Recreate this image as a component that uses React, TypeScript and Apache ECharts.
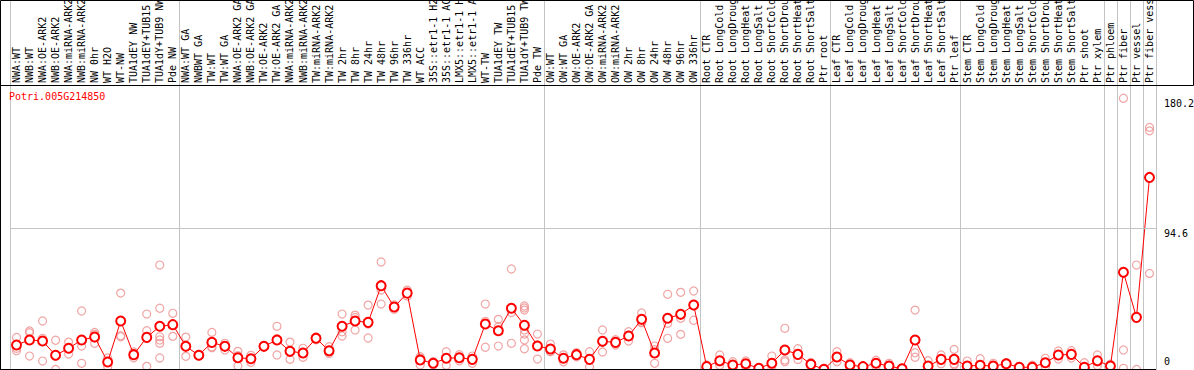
import React, { useEffect, useRef } from 'react';
import * as echarts from 'echarts';

const geneId = 'Potri.005G214850';

const categories = [
  'NWA:WT', 'NWB:WT', 'NWA:OE-ARK2', 'NWB:OE-ARK2', 'NWA:miRNA-ARK2', 'NWB:miRNA-ARK2',
  'NW 0hr', 'WT H2O', 'WT-NW', 'TUA1dEY NW', 'TUA1dEY+TUB15 NW', 'TUA1dY+TUB9 NW', 'Pde NW',
  'NWA:WT GA', 'NWBWT GA', 'TW:WT', 'TW:WT GA', 'NWA:OE-ARK2 GA', 'NWB:OE-ARK2 GA',
  'TW:OE-ARK2', 'TW:OE-ARK2 GA', 'NWA:miRNA-ARK2', 'NWB:miRNA-ARK2', 'TW:miRNA-ARK2',
  'TW:miRNA-ARK2', 'TW 2hr', 'TW 8hr', 'TW 24hr', 'TW 48hr', 'TW 96hr', 'TW 336hr',
  'WT ACC', '35S::etr1-1 H2O', '35S::etr1-1 ACC', 'LMX5::etr1-1 H2O', 'LMX5::etr1-1 ACC',
  'WT-TW', 'TUA1dEY TW', 'TUA1dEY+TUB15 TW', 'TUA1dY+TUB9 TW', 'Pde TW',
  'OW:WT', 'OW:WT GA', 'OW:OE-ARK2', 'OW:OE-ARK2 GA', 'OW:miRNA-ARK2', 'OW:miRNA-ARK2',
  'OW 2hr', 'OW 8hr', 'OW 24hr', 'OW 48hr', 'OW 96hr', 'OW 336hr',
  'Root CTR', 'Root LongCold', 'Root LongDrought', 'Root LongHeat', 'Root LongSalt',
  'Root ShortCold', 'Root ShortDrought', 'Root ShortHeat', 'Root ShortSalt', 'Ptr root',
  'Leaf CTR', 'Leaf LongCold', 'Leaf LongDrought', 'Leaf LongHeat', 'Leaf LongSalt',
  'Leaf ShortCold', 'Leaf ShortDrought', 'Leaf ShortHeat', 'Leaf ShortSalt', 'Ptr leaf',
  'Stem CTR', 'Stem LongCold', 'Stem LongDrought', 'Stem LongHeat', 'Stem LongSalt',
  'Stem ShortCold', 'Stem ShortDrought', 'Stem ShortHeat', 'Stem ShortSalt', 'Ptr shoot', 'Ptr xylem',
  'Ptr phloem', 'Ptr fiber', 'Ptr vessel', 'Ptr fiber vessel',
];

// index of the first category of each group (vertical separators)
const groupStarts = [0, 13, 41, 53, 63, 73, 84, 85, 86, 87];

const meanValues = [
  17.5, 20.8, 20.1, 10.7, 15.3, 20.8, 22.7, 6.3, 33.3, 11.1, 22.5, 29.8, 30.9,
  16.6, 10.7, 19.2, 16.6, 9.1, 8.4, 16.6, 20.8, 13.3, 12.2, 21.9, 13.7, 29.8, 33.3, 32.4,
  56.6, 42.5, 51.7, 7.6, 5.4, 8.7, 9.1, 8.0, 31.3, 26.9, 41.7, 30.5, 16.8,
  14.8, 8.7, 11.1, 8.0, 19.9, 19.2, 23.4, 34.4, 12.2, 35.1, 37.7, 43.8,
  3.2, 7.1, 4.3, 5.1, 2.1, 5.4, 14.2, 11.3, 4.7, 1.4,
  9.6, 4.3, 3.2, 5.4, 3.6, 1.8, 20.8, 3.6, 8.0, 8.0,
  3.6, 4.1, 3.6, 5.1, 2.8, 2.8, 5.8, 10.9, 11.3, 2.8, 7.1,
  3.6, 65.4, 35.7, 128.0,
];

const replicateValues = [
  [22.5, 15.3, 13.7], [26.7, 25.6, 10.2], [33.3, 21.9, 6.9], [20.6, 10.0, 1.4],
  [19.4, 15.0, 11.5], [39.9, 16.8, 5.4], [25.8, 24.5, 18.6], [8.9, 6.8, 3.2],
  [51.7, 23.6, 22.9], [12.9, 11.5, 9.0], [37.9, 26.9, 3.4],
  [70.2, 41.7, 22.9, 20.8, 18.6, 8.9], [38.4, 31.0, 23.2],
  [22.7, 17.0, 10.0], [11.2, 10.7, 10.2], [25.8, 16.2, 15.7], [18.6, 17.0, 14.2],
  [13.3, 10.5, 3.6], [10.7, 8.4, 6.1], [17.0, 16.6, 16.2], [29.8, 21.6, 10.9],
  [19.4, 12.5, 8.0], [15.3, 11.9, 9.4], [22.9, 21.9, 20.9], [16.4, 12.8, 11.9],
  [37.9, 26.2, 23.4], [37.2, 35.7, 27.4], [43.8, 31.3, 22.1], [72.2, 53.7, 44.5],
  [44.0, 42.5, 41.0], [53.7, 51.7, 49.7], [9.8, 8.7, 4.3], [6.5, 5.4, 4.3],
  [13.1, 8.9, 4.1], [11.1, 9.1, 7.1], [10.2, 8.4, 5.4], [44.5, 33.1, 16.0],
  [34.4, 29.5, 16.8], [67.6, 38.9, 18.6], [43.2, 41.9, 40.5, 27.4, 24.7, 20.8, 15.0],
  [24.7, 17.5, 8.2],
  [18.1, 13.2, 13.1], [11.0, 8.7, 6.4], [12.5, 11.1, 9.7], [13.1, 7.7, 3.2],
  [27.4, 19.4, 12.9], [21.0, 19.2, 17.4], [26.2, 23.9, 20.1], [38.6, 32.4, 32.2],
  [16.8, 14.4, 5.4], [50.9, 31.8, 21.9], [52.2, 35.1, 24.5], [53.1, 44.5, 33.8],
  [4.3, 3.2, 2.1], [10.9, 6.3, 4.1], [6.5, 4.3, 2.1], [7.0, 5.1, 3.2], [2.6, 2.1, 1.6],
  [10.2, 4.3, 1.7], [28.5, 7.6, 6.5], [15.0, 11.0, 7.9], [6.0, 4.7, 3.4], [1.8, 1.4, 1.0],
  [13.1, 9.2, 6.5], [5.8, 4.3, 2.8], [3.6, 3.2, 2.8], [7.5, 5.4, 3.3], [5.4, 3.6, 1.8],
  [2.2, 1.8, 1.4], [40.5, 12.4, 9.4], [7.1, 2.6, 1.1], [10.9, 8.0, 5.1], [14.6, 5.1, 4.3],
  [6.9, 2.5, 1.4], [8.4, 2.5, 1.4], [5.4, 3.6, 1.8], [5.8, 5.1, 4.4], [3.2, 2.8, 2.4],
  [4.2, 2.8, 1.4], [8.7, 5.8, 2.9], [13.6, 10.9, 8.2], [13.7, 11.3, 8.9], [5.8, 1.6, 1.0],
  [10.9, 6.4, 4.0],
  [4.8, 3.6, 2.4], [180.2, 14.2, 2.1], [70.2, 1.4], [161.0, 158.7, 64.7],
];

const upperTickLabels = [94.6, 180.2];
const zeroTickLabel = [0];
const referenceLine = 94.6;
const yMax = 245;

export default function App() {
  const ref = useRef<HTMLDivElement>(null);

  useEffect(() => {
    document.body.style.margin = '0';
    document.body.style.overflow = 'hidden';
    const chart = echarts.init(ref.current!, null, { renderer: 'svg' });
    const font = "'DejaVu Sans Mono', 'Liberation Mono', monospace";
    const scatterData = replicateValues.flatMap((reps, i) => reps.map((v) => [i, v]));

    chart.setOption({
      animation: false,
      backgroundColor: '#ffffff',
      title: {
        text: geneId,
        left: 9,
        top: 91,
        padding: 0,
        textStyle: { color: '#ff0000', fontFamily: font, fontSize: 10, fontWeight: 'normal' },
      },
      grid: { left: 10, right: 38, top: 0, bottom: -1.5, containLabel: false, outerBoundsMode: 'none' },
      xAxis: [
        {
          type: 'category',
          data: categories,
          boundaryGap: true,
          position: 'bottom',
          axisLine: { show: false, onZero: false },
          axisTick: { show: false },
          axisLabel: { show: false },
          splitLine: {
            show: true,
            interval: (i: number) => groupStarts.includes(i),
            lineStyle: { color: '#c4c4c4', width: 1 },
          },
        },
        {
          type: 'category',
          data: categories,
          boundaryGap: true,
          position: 'top',
          offset: -85,
          axisLine: { show: false, onZero: false },
          axisTick: { show: false },
          splitLine: { show: false },
          axisLabel: {
            interval: 0,
            rotate: -90,
            margin: 2,
            color: '#000000',
            fontFamily: font,
            fontSize: 10,
          },
        },
      ],
      yAxis: [
        {
          type: 'value',
          min: 0,
          max: yMax,
          position: 'right',
          axisLine: { show: false },
          axisTick: { show: false },
          splitLine: { show: false },
          axisLabel: {
            customValues: upperTickLabels,
            verticalAlign: 'top',
            margin: 8,
            color: '#000000',
            fontFamily: font,
            fontSize: 10,
            formatter: (v: number) => String(v),
          },
        },
        {
          type: 'value',
          min: 0,
          max: yMax,
          position: 'right',
          axisLine: { show: false },
          axisTick: { show: false },
          splitLine: { show: false },
          axisLabel: {
            customValues: zeroTickLabel,
            verticalAlign: 'bottom',
            padding: [0, 0, 5, 0],
            margin: 8,
            color: '#000000',
            fontFamily: font,
            fontSize: 10,
            formatter: (v: number) => String(v),
          },
        },
      ],
      graphic: [
        {
          type: 'rect',
          shape: { x: 0.5, y: 0.5, width: 1193, height: 85 },
          style: { fill: 'none', stroke: '#000000', lineWidth: 1 },
          silent: true,
          z: 100,
        },
        {
          type: 'line',
          shape: { x1: 0.5, y1: 85, x2: 0.5, y2: 370 },
          style: { stroke: '#000000', lineWidth: 1 },
          silent: true,
          z: 100,
        },
        {
          type: 'line',
          shape: { x1: 0, y1: 369.5, x2: 1156, y2: 369.5 },
          style: { stroke: '#000000', lineWidth: 1 },
          silent: true,
          z: 100,
        },
      ],
      series: [
        {
          name: 'replicates',
          type: 'scatter',
          xAxisIndex: 0,
          yAxisIndex: 0,
          data: scatterData,
          symbol: 'circle',
          symbolSize: 8,
          clip: false,
          itemStyle: { color: 'rgba(0,0,0,0)', borderColor: '#ec8f8f', borderWidth: 1.2 },
          z: 2,
        },
        {
          name: 'mean',
          type: 'line',
          xAxisIndex: 0,
          yAxisIndex: 0,
          data: meanValues,
          symbol: 'emptyCircle',
          symbolSize: 9,
          showSymbol: true,
          showAllSymbol: true,
          clip: false,
          lineStyle: { color: '#ff0000', width: 1 },
          itemStyle: { color: '#ff0000', borderColor: '#ff0000', borderWidth: 1.6 },
          markLine: {
            silent: true,
            symbol: 'none',
            label: { show: false },
            lineStyle: { color: '#c4c4c4', width: 1, type: 'solid' },
            data: [{ yAxis: referenceLine }],
          },
          z: 3,
        },
      ],
    });

    return () => chart.dispose();
  }, []);

  return <div ref={ref} style={{ width: 1194, height: 370 }} />;
}
